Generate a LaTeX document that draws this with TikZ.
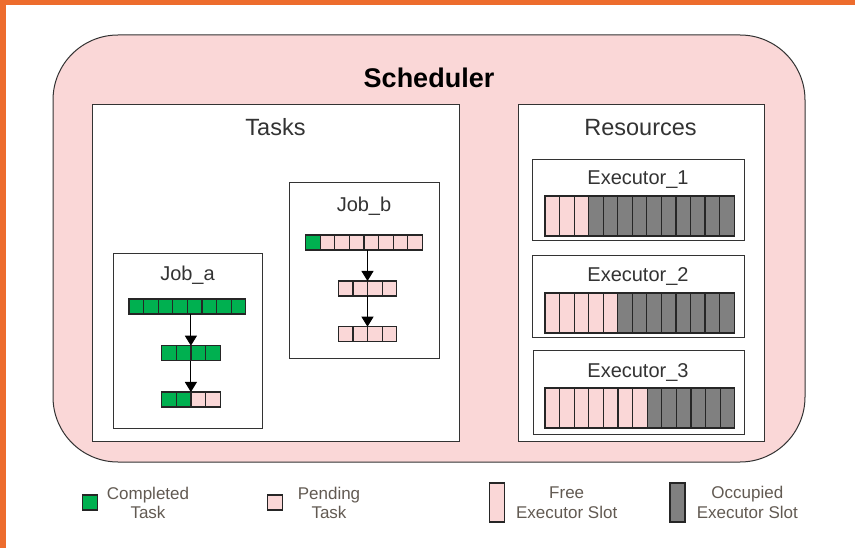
\documentclass[tikz,border=0pt]{standalone}
\usepackage{fontspec}
\setmainfont{Liberation Sans}
\usetikzlibrary{arrows.meta}

\definecolor{frameorange}{RGB}{237,108,45}
\definecolor{schedfill}{RGB}{250,215,215}
\definecolor{donegreen}{RGB}{0,176,80}
\definecolor{pendpink}{RGB}{250,215,215}
\definecolor{busygray}{RGB}{128,128,128}
\definecolor{edgegray}{RGB}{51,51,51}
\definecolor{labelgray}{RGB}{51,51,51}
\definecolor{legendtext}{RGB}{98,90,82}

\tikzset{
  panel/.style={draw=edgegray, line width=1pt, fill=white},
  cell/.style={draw=black!85, line width=1.2pt, inner sep=0pt, outer sep=0pt, anchor=north west},
  rowframe/.style={inner sep=0pt, outer sep=0pt, anchor=north west},
  boxlabel/.style={font=\fontsize{20}{24}\selectfont, text=labelgray, anchor=base, inner sep=0pt},
  panellabel/.style={font=\fontsize{23.5}{28}\selectfont, text=labelgray, anchor=base, inner sep=0pt},
  legendlabel/.style={font=\fontsize{17}{19.5}\selectfont, text=legendtext, align=center, anchor=base, inner sep=0pt},
  flow/.style={draw=black, line width=1pt, -{Triangle[width=12pt,length=10pt]}},
}

% a row of square cells: name, left, top, cell width, cell height, colours
\newcommand{\cellrow}[6]{%
  \foreach \c [count=\i from 0, count=\n] in {#6} {
    \node[cell, fill=\c, minimum width=#4pt, minimum height=#5pt] (#1-\i) at (#2+\i*#4, #3) {};
    \xdef\cellcount{\n}
  }
  \node[rowframe, minimum width=\cellcount*#4pt, minimum height=#5pt] (#1) at (#2, #3) {};
}

\begin{document}
\begin{tikzpicture}[x=1pt, y=-1pt]
  \useasboundingbox (0,0) rectangle (855,548);

  % page frame
  \fill[frameorange] (0,0) rectangle (855,5);
  \fill[frameorange] (0,0) rectangle (6,548);

  % scheduler shell
  \draw[draw=edgegray, line width=1pt, fill=schedfill, rounded corners=65pt]
    (53,35) rectangle (805,462);
  \node[font=\fontsize{27}{32}\selectfont\bfseries, anchor=base, inner sep=0pt] (sched) at (429,88) {Scheduler};

  % tasks panel
  \draw[panel] (92,105) rectangle (459,441);
  \node[panellabel] (tasks) at (275.5,135.5) {Tasks};

  % job a
  \draw[panel] (113,254) rectangle (262,428);
  \node[boxlabel] (joba) at (187.5,281) {Job\_a};
  \cellrow{ja1}{129}{299}{14.6}{15}{donegreen,donegreen,donegreen,donegreen,donegreen,donegreen,donegreen,donegreen}
  \cellrow{ja2}{161.7}{345.7}{14.6}{15}{donegreen,donegreen,donegreen,donegreen}
  \cellrow{ja3}{161.7}{392}{14.6}{15}{donegreen,donegreen,pendpink,pendpink}
  \draw[flow] (ja1.south -| ja2.north) -- (ja2.north);
  \draw[flow] (ja2.south) -- (ja3.north);

  % job b
  \draw[panel] (289,183) rectangle (439,359);
  \node[boxlabel] (jobb) at (364,212) {Job\_b};
  \cellrow{jb1}{305.7}{235}{14.58}{15}{donegreen,pendpink,pendpink,pendpink,pendpink,pendpink,pendpink,pendpink}
  \cellrow{jb2}{338.3}{281}{14.6}{15}{pendpink,pendpink,pendpink,pendpink}
  \cellrow{jb3}{338.3}{326.7}{14.6}{15}{pendpink,pendpink,pendpink,pendpink}
  \draw[flow] (jb1.south -| jb2.north) -- (jb2.north);
  \draw[flow] (jb2.south) -- (jb3.north);

  % resources panel
  \draw[panel] (518,105) rectangle (764,441);
  \node[panellabel] (res) at (640.5,135.5) {Resources};

  \draw[panel] (532.5,159.5) rectangle (744,241);
  \node[boxlabel] (ex1) at (638,185) {Executor\_1};
  \cellrow{ex1slots}{545}{196}{14.55}{40}{pendpink,pendpink,pendpink,busygray,busygray,busygray,busygray,busygray,busygray,busygray,busygray,busygray,busygray}

  \draw[panel] (532.5,256) rectangle (744,338);
  \node[boxlabel] (ex2) at (638,281.5) {Executor\_2};
  \cellrow{ex2slots}{545}{293}{14.55}{40}{pendpink,pendpink,pendpink,pendpink,pendpink,busygray,busygray,busygray,busygray,busygray,busygray,busygray,busygray}

  \draw[panel] (533,351) rectangle (744,434);
  \node[boxlabel] (ex3) at (638,377.5) {Executor\_3};
  \cellrow{ex3slots}{545}{388}{14.6}{40}{pendpink,pendpink,pendpink,pendpink,pendpink,pendpink,pendpink,busygray,busygray,busygray,busygray,busygray,busygray}

  % legend (labels anchored on the baseline of their second line)
  \node[cell, fill=donegreen, minimum width=15pt, minimum height=15pt] (lgdone) at (82.3,495) {};
  \node[legendlabel] (lgdonetxt) at (148,518.5) {Completed\\Task};
  \node[cell, fill=pendpink, minimum width=15pt, minimum height=15pt] (lgpend) at (267.3,495) {};
  \node[legendlabel] (lgpendtxt) at (329,518.5) {Pending\\Task};
  \node[cell, fill=pendpink, minimum width=15pt, minimum height=39pt] (lgfree) at (489.3,483) {};
  \node[legendlabel] (lgfreetxt) at (566.7,518) {Free\\Executor Slot};
  \node[cell, fill=busygray, minimum width=15pt, minimum height=39pt] (lgbusy) at (670,483) {};
  \node[legendlabel] (lgbusytxt) at (747.3,518) {Occupied\\Executor Slot};
\end{tikzpicture}
\end{document}
